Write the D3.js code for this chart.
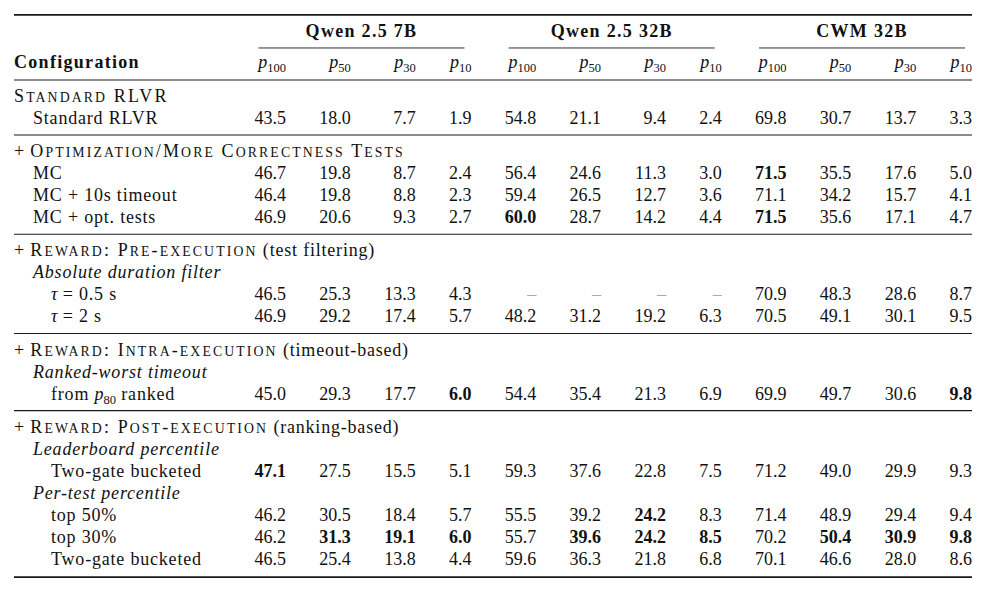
<!DOCTYPE html>
<html>
<head>
<meta charset="utf-8">
<script src="https://cdn.jsdelivr.net/npm/d3@7"></script>
<style>
  body { margin: 0; background: #fff; }
  text { font-family: "Liberation Serif", "Times New Roman", serif; font-size: 18px; fill: #111; white-space: pre; }
  .label { letter-spacing: 0.8px; }
  .bold-head { letter-spacing: 1.3px; }
</style>
</head>
<body>
<div id="chart"></div>
<script>
// Column groups and sub-columns
const models = ["Qwen 2.5 7B", "Qwen 2.5 32B", "CWM 32B"];
const percentiles = ["100", "50", "30", "10"];

// Row labels; $x$ = italic math, _{..} = subscript
const rowLabels = [
  "Standard RLVR",
  "Standard RLVR",
  "+ Optimization/More Correctness Tests",
  "MC",
  "MC + 10s timeout",
  "MC + opt. tests",
  "+ Reward: Pre-execution (test filtering)",
  "Absolute duration filter",
  "$τ$ = 0.5 s",
  "$τ$ = 2 s",
  "+ Reward: Intra-execution (timeout-based)",
  "Ranked-worst timeout",
  "from $p_{80}$ ranked",
  "+ Reward: Post-execution (ranking-based)",
  "Leaderboard percentile",
  "Two-gate bucketed",
  "Per-test percentile",
  "top 50%",
  "top 30%",
  "Two-gate bucketed"
];
// group = small-caps section, sub = italic sub-heading, 1 / 2 = indent level
const rowKinds = ["group", 1, "group", 1, 1, 1, "group", "sub", 2, 2,
                  "group", "sub", 2, "group", "sub", 2, "sub", 2, 2, 2];
// a midrule goes under these rows
const rulesAfter = [1, 5, 9, 12];

// p100 p50 p30 p10 for each model, null = not run
const scores = [
  null,
  [43.5, 18.0, 7.7, 1.9, 54.8, 21.1, 9.4, 2.4, 69.8, 30.7, 13.7, 3.3],
  null,
  [46.7, 19.8, 8.7, 2.4, 56.4, 24.6, 11.3, 3.0, 71.5, 35.5, 17.6, 5.0],
  [46.4, 19.8, 8.8, 2.3, 59.4, 26.5, 12.7, 3.6, 71.1, 34.2, 15.7, 4.1],
  [46.9, 20.6, 9.3, 2.7, 60.0, 28.7, 14.2, 4.4, 71.5, 35.6, 17.1, 4.7],
  null,
  null,
  [46.5, 25.3, 13.3, 4.3, null, null, null, null, 70.9, 48.3, 28.6, 8.7],
  [46.9, 29.2, 17.4, 5.7, 48.2, 31.2, 19.2, 6.3, 70.5, 49.1, 30.1, 9.5],
  null,
  null,
  [45.0, 29.3, 17.7, 6.0, 54.4, 35.4, 21.3, 6.9, 69.9, 49.7, 30.6, 9.8],
  null,
  null,
  [47.1, 27.5, 15.5, 5.1, 59.3, 37.6, 22.8, 7.5, 71.2, 49.0, 29.9, 9.3],
  null,
  [46.2, 30.5, 18.4, 5.7, 55.5, 39.2, 24.2, 8.3, 71.4, 48.9, 29.4, 9.4],
  [46.2, 31.3, 19.1, 6.0, 55.7, 39.6, 24.2, 8.5, 70.2, 50.4, 30.9, 9.8],
  [46.5, 25.4, 13.8, 4.4, 59.6, 36.3, 21.8, 6.8, 70.1, 46.6, 28.0, 8.6]
];

// Page setup
const width = 987, height = 593;
const left = 14, right = 972;
const subSize = 12.5, subShift = 4;
const scSize = 13.8, scSpacing = 2.1;
const indent = { group: 0, sub: 19, 1: 19, 2: 37 };

const svg = d3.select("#chart")
  .append("svg")
  .attr("width", width)
  .attr("height", height);

// writes "$p_{100}$"-style text into a <text>
function writeRich(sel, str) {
  let shift = 0;
  str.split(/(\$[^$]*\$)/).filter(s => s.length).forEach(tok => {
    const m = tok.match(/^\$(.)(?:_\{(.*)\})?\$$/);
    if (!m) {
      sel.append("tspan").attr("dy", shift ? -shift : null).text(tok);
      shift = 0;
      return;
    }
    sel.append("tspan").attr("dy", shift ? -shift : null)
      .attr("font-style", "italic").attr("letter-spacing", 0).text(m[1]);
    shift = 0;
    if (m[2]) {
      sel.append("tspan").attr("font-size", subSize).attr("dy", subShift)
        .attr("letter-spacing", 0).text(m[2]);
      shift = subShift;
    }
  });
}

function writeSmallCaps(sel, str) {
  const runs = [];
  for (const ch of str) {
    const lower = ch !== ch.toUpperCase();
    const last = runs[runs.length - 1];
    if (last && last.lower === lower) last.s += ch;
    else runs.push({ lower, s: ch });
  }
  runs.forEach(r => sel.append("tspan")
    .attr("font-size", r.lower ? scSize : null)
    .attr("letter-spacing", scSpacing)
    .text(r.lower ? r.s.toUpperCase() : r.s));
}

function writeGroup(sel, str) {
  const m = str.match(/^(\+ )?(.*?)( \(.*\))?$/);
  if (m[1]) sel.append("tspan").text("+ ");
  writeSmallCaps(sel, m[2]);
  if (m[3]) sel.append("tspan").text(m[3]);
}

// hidden probe for measuring widths
const probe = svg.append("text").attr("x", -2000).attr("y", -2000);
function measure(writer, weight, style, cls) {
  probe.selectAll("*").remove();
  probe.text(null)
    .attr("class", cls || null)
    .attr("font-weight", weight || null)
    .attr("font-style", style || null);
  writer(probe);
  return probe.node().getComputedTextLength();
}

// Bold = best value in each column
const nCols = models.length * percentiles.length;
const colKeys = d3.range(nCols);
const colMax = colKeys.map(j => d3.max(scores.filter(r => r), r => r[j]));
const fmt = d3.format(".1f");
const cellText = v => v == null ? "\u2013" : fmt(v);

// Column widths, LaTeX style
const headerWidths = colKeys.map(j =>
  measure(s => writeRich(s, `$p_{${percentiles[j % 4]}}$`)));
const colW = colKeys.map(j => Math.max(headerWidths[j],
  d3.max(scores.filter(r => r), r =>
    measure(s => s.text(cellText(r[j])), r[j] === colMax[j] ? "bold" : null))));

const labelW = d3.max(rowLabels, (d, i) => rowKinds[i] === "group" ? 0 :
  indent[rowKinds[i]] + measure(s => writeRich(s, d), null,
    rowKinds[i] === "sub" ? "italic" : null, "label"));

const sep = (right - left - labelW - d3.sum(colW)) / (2 * nCols);
const colRight = colKeys.map(j => left + labelW + (2 * j + 2) * sep + d3.sum(colW.slice(0, j + 1)));
probe.remove();

const x = d3.scaleOrdinal().domain(colKeys).range(colRight);

// Vertical slots: one per row, half a row extra at each midrule
const slots = rowLabels.map((d, i) => i + 0.5 * rulesAfter.filter(r => r < i).length);
const lastSlot = slots[slots.length - 1];
const y = d3.scaleLinear().domain([0, lastSlot]).range([102, 565]);

// Rules
const rules = [
  { y: y(-3.95), w: 1.7 },
  { y: y(-1), w: 1.1 },
  ...rulesAfter.map(r => ({ y: y(slots[r] + 0.5), w: 1.1 })),
  { y: y(lastSlot + 0.55), w: 1.7 }
];
svg.append("g").selectAll("line")
  .data(rules)
  .join("line")
  .attr("x1", left).attr("x2", right)
  .attr("y1", d => d.y).attr("y2", d => d.y)
  .attr("stroke", "#1a1a1a")
  .attr("stroke-width", d => d.w);

// Model headers with cmidrules
const groups = models.map((m, g) => {
  const first = g * 4, last = g * 4 + 3;
  return { name: m, x1: x(first) - colW[first] + 4, x2: x(last) - 7 };
});
const head = svg.append("g");
head.selectAll("line")
  .data(groups)
  .join("line")
  .attr("x1", d => d.x1).attr("x2", d => d.x2)
  .attr("y1", y(-2.45)).attr("y2", y(-2.45))
  .attr("stroke", "#1a1a1a")
  .attr("stroke-width", 0.9);
head.selectAll("text.model")
  .data(groups)
  .join("text")
  .attr("class", "model bold-head")
  .attr("x", d => (d.x1 + d.x2) / 2)
  .attr("y", y(-2.95))
  .attr("text-anchor", "middle")
  .attr("font-weight", "bold")
  .text(d => d.name);

head.append("text")
  .attr("class", "bold-head")
  .attr("x", left)
  .attr("y", y(-1.55))
  .attr("font-weight", "bold")
  .text("Configuration");

head.selectAll("text.pct")
  .data(colKeys)
  .join("text")
  .attr("class", "pct")
  .attr("x", j => x(j))
  .attr("y", y(-1.55))
  .attr("text-anchor", "end")
  .each(function (j) { writeRich(d3.select(this), `$p_{${percentiles[j % 4]}}$`); });

// Body rows
const rows = svg.append("g").selectAll("g.row")
  .data(rowLabels.map((label, i) => ({ label, kind: rowKinds[i], vals: scores[i], slot: slots[i] })))
  .join("g")
  .attr("class", "row")
  .attr("transform", d => `translate(0,${y(d.slot)})`);

rows.append("text")
  .attr("class", "label")
  .attr("x", d => left + indent[d.kind])
  .attr("font-style", d => d.kind === "sub" ? "italic" : null)
  .each(function (d) {
    const sel = d3.select(this);
    if (d.kind === "group") writeGroup(sel, d.label);
    else writeRich(sel, d.label);
  });

rows.filter(d => d.vals)
  .selectAll("text.val")
  .data(d => d.vals.map((v, j) => ({ v, j })))
  .join("text")
  .attr("class", "val")
  .attr("x", d => x(d.j))
  .attr("text-anchor", "end")
  .attr("font-weight", d => d.v === colMax[d.j] ? "bold" : null)
  .style("fill", d => d.v == null ? "#aaa" : null)
  .text(d => cellText(d.v));
</script>
</body>
</html>
